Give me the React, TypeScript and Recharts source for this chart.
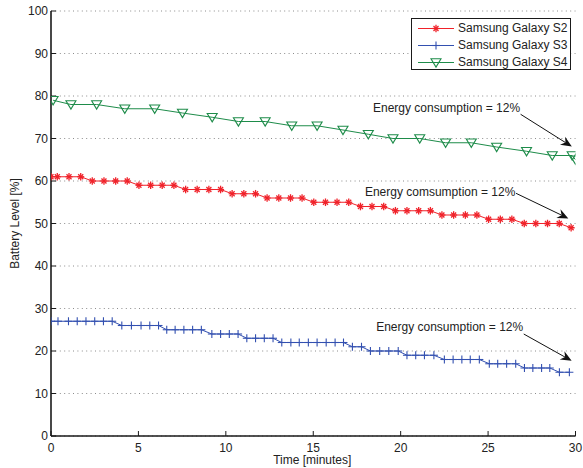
import React from 'react';
import {
  LineChart,
  Line,
  XAxis,
  YAxis,
  CartesianGrid,
  Legend,
  ReferenceLine,
  ReferenceDot,
} from 'recharts';

// ---------- data ----------
const xTicks = [0, 5, 10, 15, 20, 25, 30];
const yTicks = [0, 10, 20, 30, 40, 50, 60, 70, 80, 90, 100];

const seriesNames = ['Samsung Galaxy S2', 'Samsung Galaxy S3', 'Samsung Galaxy S4'];

const s2Time = [
  0, 0.36, 1.03, 1.7, 2.36, 3.03, 3.7, 4.36, 5.03, 5.7, 6.36, 7.03, 7.7, 8.36, 9.03, 9.7,
  10.36, 11.03, 11.7, 12.36, 13.03, 13.7, 14.36, 15.03, 15.7, 16.36, 17.03, 17.7, 18.36,
  19.03, 19.7, 20.36, 21.03, 21.7, 22.36, 23.03, 23.7, 24.36, 25.03, 25.7, 26.36, 27.07,
  27.73, 28.4, 29.07, 29.75,
];
const s2Level = [
  61, 61, 61, 61, 60, 60, 60, 60, 59, 59, 59, 59, 58, 58, 58, 58, 57, 57, 57, 56, 56, 56, 56,
  55, 55, 55, 55, 54, 54, 54, 53, 53, 53, 53, 52, 52, 52, 52, 51, 51, 51, 50, 50, 50, 50, 49,
];

const s3Time = [
  0, 0.4, 1.0, 1.5, 2.0, 2.5, 3.0, 3.5,
  4.05, 4.6, 5.15, 5.65, 6.15,
  6.62, 7.1, 7.6, 8.1, 8.6,
  9.2, 9.7, 10.2, 10.7,
  11.2, 11.7, 12.2, 12.7,
  13.2, 13.72, 14.2, 14.72, 15.22, 15.74, 16.25, 16.73,
  17.24, 17.76,
  18.27, 18.8, 19.32, 19.86,
  20.36, 20.86, 21.36, 21.9,
  22.5, 23.0, 23.5, 23.98, 24.5,
  25.07, 25.55, 26.06, 26.58,
  27.08, 27.56, 28.06, 28.53,
  29.08, 29.65,
];
const s3Level = [
  27, 27, 27, 27, 27, 27, 27, 27,
  26, 26, 26, 26, 26,
  25, 25, 25, 25, 25,
  24, 24, 24, 24,
  23, 23, 23, 23,
  22, 22, 22, 22, 22, 22, 22, 22,
  21, 21,
  20, 20, 20, 20,
  19, 19, 19, 19,
  18, 18, 18, 18, 18,
  17, 17, 17, 17,
  16, 16, 16, 16,
  15, 15,
];

const s4Time = [
  0.12, 1.14, 2.61, 4.22, 5.93, 7.52, 9.22, 10.72, 12.25, 13.77, 15.22, 16.7, 18.15, 19.56,
  21.09, 22.57, 24.04, 25.49, 27.2, 28.67, 29.81, 30,
];
const s4Level = [
  79, 78, 78, 77, 77, 76, 75, 74, 74, 73, 73, 72, 71, 70, 70, 69, 69, 68, 67, 66, 66, 65,
];

const annLabels = ['Energy consumption = 12%', 'Energy comsumption = 12%', 'Energy consumption = 12%'];
const annTextT = [26.83, 26.56, 27.01];
const annTextV = [77.1, 57.3, 25.7];
const annFromT = [26.86, 26.6, 27.04];
const annFromV = [75.7, 57.1, 24.0];
const annToT = [29.79, 29.59, 29.78];
const annToV = [68.1, 51.2, 17.7];

// ---------- styles ----------
const FONT = '"Liberation Sans", Arial, Helvetica, sans-serif';
const AXIS = '#1a1a1a';
const TXT = '#222222';
const RED = '#f0222a';
const BLUE = '#3350b0';
const GREEN = '#1e8c4a';

const rows = (ts: number[], vs: number[]) => ts.map((t, i) => ({ t, v: vs[i] }));
const s2Data = rows(s2Time, s2Level);
const s3Data = rows(s3Time, s3Level);
const s4Data = rows(s4Time, s4Level);

// ---------- markers ----------
const Star = ({ cx, cy, color }: any) => (
  <g stroke={color} strokeWidth={1.3} fill={color}>
    <line x1={cx - 3.5} y1={cy} x2={cx + 3.5} y2={cy} />
    <line x1={cx} y1={cy - 3.8} x2={cx} y2={cy + 3.8} />
    <line x1={cx - 2.5} y1={cy - 2.5} x2={cx + 2.5} y2={cy + 2.5} />
    <line x1={cx - 2.5} y1={cy + 2.5} x2={cx + 2.5} y2={cy - 2.5} />
  </g>
);
const Plus = ({ cx, cy, color }: any) => (
  <g stroke={color} strokeWidth={1.1}>
    <line x1={cx - 4} y1={cy} x2={cx + 4} y2={cy} />
    <line x1={cx} y1={cy - 4} x2={cx} y2={cy + 4} />
  </g>
);
const Tri = ({ cx, cy, color }: any) => (
  <polygon
    points={`${cx - 5},${cy - 3.8} ${cx + 5},${cy - 3.8} ${cx},${cy + 4.6}`}
    fill="none"
    stroke={color}
    strokeWidth={1.1}
  />
);

const markerDot = (M: any, color: string) => (p: any) =>
  <M key={`m-${p.index}`} cx={p.cx} cy={p.cy} color={color} />;

const noTickLabel = (p: any) => <g key={`nt-${p.index}`} />;

const legendRows = [
  { name: seriesNames[0], color: RED, M: Star },
  { name: seriesNames[1], color: BLUE, M: Plus },
  { name: seriesNames[2], color: GREEN, M: Tri },
];

const renderLegend = () => (
  <div
    style={{
      width: 160,
      height: 52,
      border: `1px solid ${AXIS}`,
      background: '#fff',
      fontFamily: FONT,
      fontSize: 12,
      color: TXT,
      paddingTop: 1,
      boxSizing: 'border-box',
    }}
  >
    {legendRows.map((r) => (
      <div key={r.name} style={{ display: 'flex', alignItems: 'center', height: 17, lineHeight: '17px' }}>
        <svg width={46} height={17} style={{ display: 'block' }}>
          <line x1={6} y1={8.5} x2={42} y2={8.5} stroke={r.color} strokeWidth={1} />
          <r.M cx={24} cy={8.5} color={r.color} />
        </svg>
        <span style={{ whiteSpace: 'nowrap' }}>{r.name}</span>
      </div>
    ))}
  </div>
);

const ArrowShape = (p: any) => {
  const { x1, y1, x2, y2 } = p;
  const dx = x2 - x1;
  const dy = y2 - y1;
  const len = Math.hypot(dx, dy) || 1;
  const ux = dx / len;
  const uy = dy / len;
  const nx = -uy;
  const ny = ux;
  const L = 11;
  const W = 4.8;
  const back = 7.5;
  const bx = x2 - ux * L;
  const by = y2 - uy * L;
  const mx = x2 - ux * back;
  const my = y2 - uy * back;
  return (
    <g>
      <line x1={x1} y1={y1} x2={mx} y2={my} stroke="#111" strokeWidth={1} />
      <polygon
        points={`${x2},${y2} ${bx + nx * W},${by + ny * W} ${mx},${my} ${bx - nx * W},${by - ny * W}`}
        fill="#111"
      />
    </g>
  );
};

const textShape = (label: string) => (p: any) => (
  <text
    x={p.cx}
    y={p.cy}
    textAnchor="end"
    dominantBaseline="central"
    fontFamily={FONT}
    fontSize={12}
    fill={TXT}
  >
    {label}
  </text>
);

const yLabel = (props: any) => {
  const vb = props.viewBox || { x: 0, y: 11, width: 51, height: 425 };
  const cx = 15;
  const cy = vb.y + vb.height / 2;
  return (
    <text
      x={cx}
      y={cy}
      transform={`rotate(-90, ${cx}, ${cy})`}
      textAnchor="middle"
      dominantBaseline="central"
      fontFamily={FONT}
      fontSize={12}
      fill={TXT}
    >
      Battery Level [%]
    </text>
  );
};

const xLabel = (props: any) => {
  const vb = props.viewBox || { x: 51, y: 436, width: 524.5, height: 32 };
  const cx = vb.x + vb.width / 2 - 1;
  const cy = 460;
  return (
    <text
      x={cx}
      y={cy}
      textAnchor="middle"
      dominantBaseline="central"
      fontFamily={FONT}
      fontSize={12}
      fill={TXT}
    >
      Time [minutes]
    </text>
  );
};

export default function App() {
  const tickStyle = { fill: TXT, fontSize: 12, fontFamily: FONT };
  return (
    <div style={{ position: 'absolute', left: 0, top: 0, width: 583, height: 468, background: '#fff' }}>
      <LineChart width={583} height={468} margin={{ top: 11, right: 7.5, bottom: 0, left: 0 }}>
        <CartesianGrid vertical={false} stroke="#8c8c8c" strokeDasharray="1 3.4" />
        <XAxis
          xAxisId={0}
          type="number"
          dataKey="t"
          domain={[0, 30]}
          ticks={xTicks}
          interval={0}
          height={32}
          tickSize={-5}
          tickMargin={12}
          axisLine={{ stroke: AXIS, strokeWidth: 1.6 }}
          tickLine={{ stroke: AXIS }}
          tick={tickStyle}
          label={xLabel}
          allowDataOverflow
        />
        <XAxis
          xAxisId="top"
          orientation="top"
          type="number"
          dataKey="t"
          domain={[0, 30]}
          ticks={xTicks}
          interval={0}
          height={0}
          tickSize={-5}
          axisLine={{ stroke: AXIS, strokeWidth: 1.6 }}
          tickLine={{ stroke: AXIS }}
          tick={noTickLabel}
        />
        <YAxis
          yAxisId={0}
          type="number"
          domain={[0, 100]}
          ticks={yTicks}
          interval={0}
          width={51}
          tickSize={-5}
          tickMargin={8}
          axisLine={{ stroke: AXIS, strokeWidth: 1.6 }}
          tickLine={{ stroke: AXIS }}
          tick={tickStyle}
          label={yLabel}
        />
        <YAxis
          yAxisId="right"
          orientation="right"
          type="number"
          domain={[0, 100]}
          ticks={yTicks}
          interval={0}
          width={0}
          tickSize={-5}
          axisLine={{ stroke: AXIS, strokeWidth: 1.6 }}
          tickLine={{ stroke: AXIS }}
          tick={noTickLabel}
        />
        <Line
          data={s2Data}
          dataKey="v"
          name={seriesNames[0]}
          stroke={RED}
          strokeWidth={1}
          dot={markerDot(Star, RED)}
          activeDot={false}
          isAnimationActive={false}
        />
        <Line
          data={s3Data}
          dataKey="v"
          name={seriesNames[1]}
          stroke={BLUE}
          strokeWidth={1}
          dot={markerDot(Plus, BLUE)}
          activeDot={false}
          isAnimationActive={false}
        />
        <Line
          data={s4Data}
          dataKey="v"
          name={seriesNames[2]}
          stroke={GREEN}
          strokeWidth={1}
          dot={markerDot(Tri, GREEN)}
          activeDot={false}
          isAnimationActive={false}
        />
        {annLabels.map((lab, i) => (
          <ReferenceLine
            key={`arr-${i}`}
            segment={[
              { x: annFromT[i], y: annFromV[i] },
              { x: annToT[i], y: annToV[i] },
            ]}
            shape={ArrowShape}
          />
        ))}
        {annLabels.map((lab, i) => (
          <ReferenceDot
            key={`txt-${i}`}
            x={annTextT[i]}
            y={annTextV[i]}
            r={0}
            shape={textShape(lab)}
          />
        ))}
        <Legend
          layout="vertical"
          align="center"
          verticalAlign="middle"
          content={renderLegend}
          wrapperStyle={{ left: 411, top: 18, width: 160, height: 52 }}
        />
      </LineChart>
    </div>
  );
}
